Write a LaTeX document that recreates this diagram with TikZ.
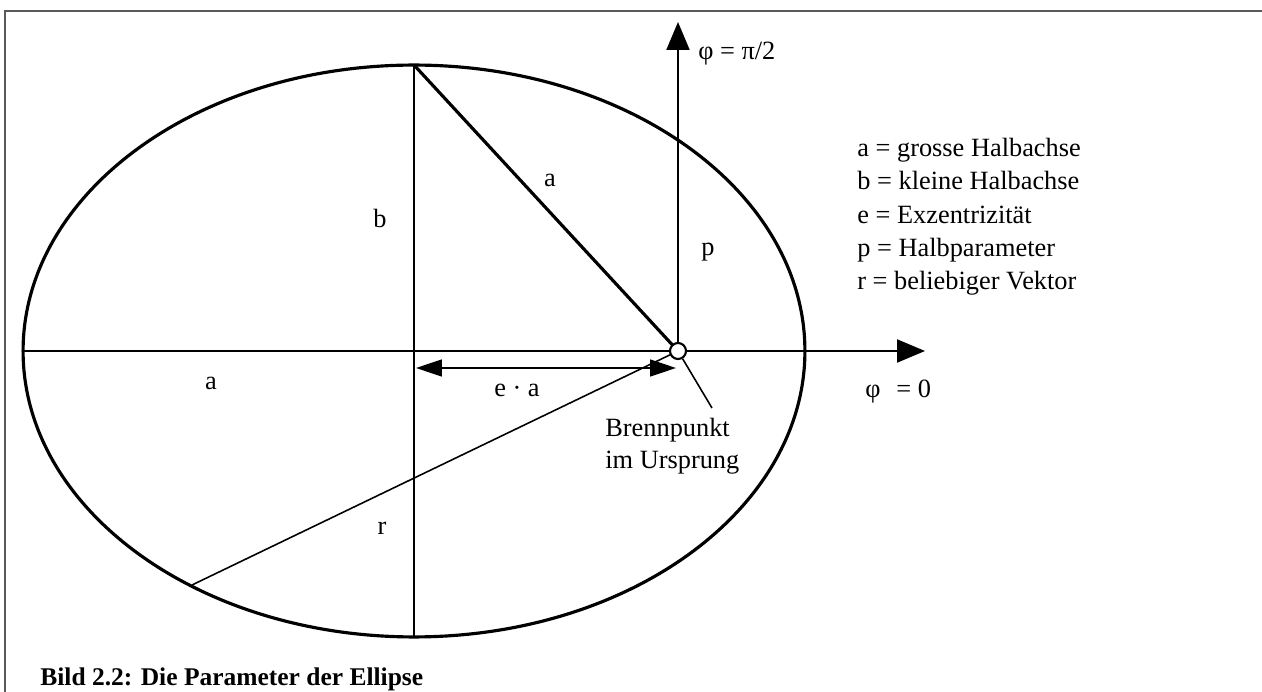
\documentclass[tikz,border=0pt]{standalone}
\usepackage{fontspec}
\setmainfont{Liberation Serif}
\usetikzlibrary{arrows.meta}

\begin{document}
\begin{tikzpicture}[
    x=0.02cm, y=-0.02cm,
    >={Triangle[length=0.56cm, width=0.46cm]},
    font=\fontsize{15}{18}\selectfont,
    lbl/.style={inner sep=0pt},
    axisline/.style={line width=1.2pt},
    thinline/.style={line width=0.9pt},
    thickline/.style={line width=1.8pt}
]
    \useasboundingbox (0,0) rectangle (1262,692);
    \draw[line width=1pt, gray!70!black] (5,692) -- (5,11) -- (1262,11);

    \coordinate (mitte) at (414,351);
    \coordinate (oben) at (414,65);
    \coordinate (unten) at (414,637);
    \coordinate (links) at (23,351);
    \coordinate (fokus) at (678,351);
    \coordinate (xende) at (925,351);
    \coordinate (yende) at (678,22);
    \coordinate (rende) at (192,585);
    \coordinate (zeiger) at (712,408);
    \coordinate (ea1) at (416,368);
    \coordinate (ea2) at (676,368);

    \draw[thickline] (mitte) ellipse [x radius=7.82cm, y radius=5.72cm];
    \draw[axisline, ->] (links) -- (xende);
    \draw[thinline] (oben) -- (unten);
    \draw[axisline, ->] (fokus) -- (yende);
    \draw[thickline] (oben) -- (fokus);
    \draw[thinline] (fokus) -- (rende);
    \draw[thinline, {Triangle[length=0.52cm, width=0.34cm]}-{Triangle[length=0.52cm, width=0.34cm]}] (ea1) -- (ea2);
    \node[circle, draw, line width=1.2pt, fill=white, minimum size=0.32cm, inner sep=0pt] (brenn) at (fokus) {};
    \draw[thinline] (brenn) -- (zeiger);

    \node[lbl] (lb) at (380,218) {b};
    \node[lbl] (la) at (550,180) {a};
    \node[lbl] (lp) at (708,252) {p};
    \node[lbl] (lagross) at (211,383) {a};
    \node[lbl] (lea) at (517,390) {e · a};
    \node[lbl] (lr) at (382,528) {r};
    \node[lbl, align=left, anchor=north west] (lbrenn) at (605,418)
        {Brennpunkt\\im Ursprung};
    \node[lbl, anchor=west] (phinull) at (865,392) {φ\hspace{0.35em} = 0};
    \node[lbl, anchor=west] (phipi) at (698,54) {φ = π/2};

    \node[lbl, anchor=base west] (leg1) at (857,157) {a = grosse Halbachse};
    \node[lbl, anchor=base west] (leg2) at (857,190) {b = kleine Halbachse};
    \node[lbl, anchor=base west] (leg3) at (857,224) {e = Exzentrizität};
    \node[lbl, anchor=base west] (leg4) at (857,257) {p = Halbparameter};
    \node[lbl, anchor=base west] (leg5) at (857,290) {r = beliebiger Vektor};

    \node[lbl, anchor=base west, font=\fontsize{14.5}{18}\selectfont\bfseries] (bild) at (40,685)
        {Bild 2.2: Die Parameter der Ellipse};
\end{tikzpicture}
\end{document}
